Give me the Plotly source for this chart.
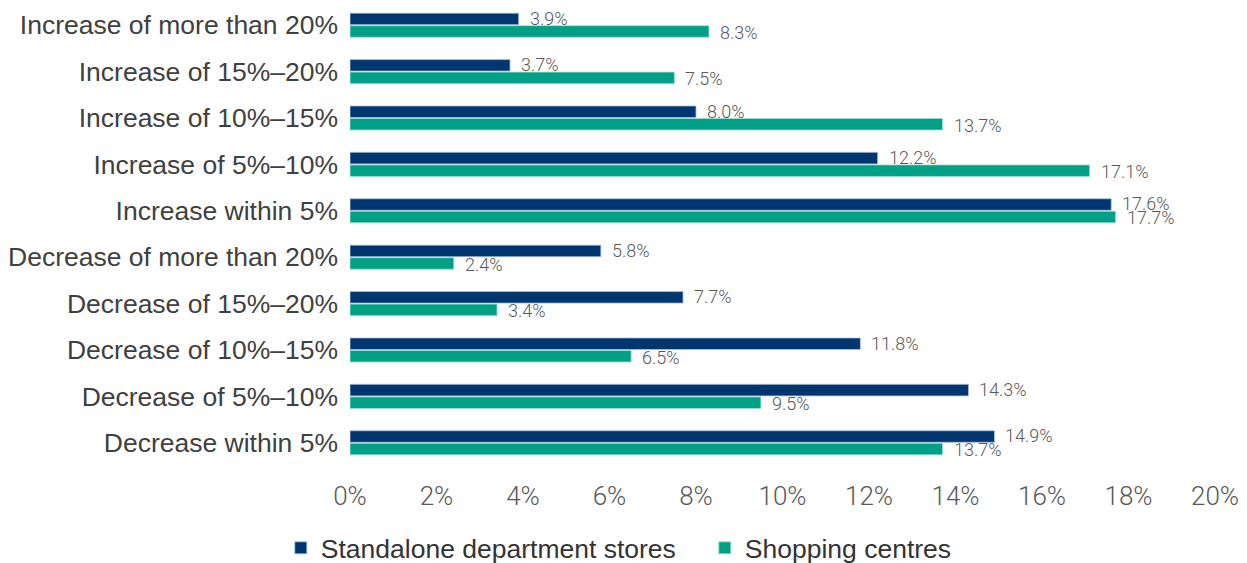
import plotly.graph_objects as go

categories = [
    "Increase of more than 20%",
    "Increase of 15%–20%",
    "Increase of 10%–15%",
    "Increase of 5%–10%",
    "Increase within 5%",
    "Decrease of more than 20%",
    "Decrease of 15%–20%",
    "Decrease of 10%–15%",
    "Decrease of 5%–10%",
    "Decrease within 5%",
]
standalone = [3.9, 3.7, 8.0, 12.2, 17.6, 5.8, 7.7, 11.8, 14.3, 14.9]
shopping = [8.3, 7.5, 13.7, 17.1, 17.7, 2.4, 3.4, 6.5, 9.5, 13.7]
x_ticks = [0, 2, 4, 6, 8, 10, 12, 14, 16, 18, 20]

NAVY = "#003670"
TEAL = "#00A086"
LABEL_FONT = dict(family="Roboto", size=18, color="#595959", weight=300)

fig = go.Figure()
fig.add_trace(go.Bar(
    name="Standalone department stores", y=categories, x=standalone,
    orientation="h", marker=dict(color=NAVY, line=dict(color="#a9bfd6", width=0.8)),
))
fig.add_trace(go.Bar(
    name="Shopping centres", y=categories, x=shopping,
    orientation="h", marker=dict(color=TEAL, line=dict(color="#9fe0d2", width=0.8)),
))

# value labels just past the end of each bar
annotations = []
for cat, a, b in zip(categories, standalone, shopping):
    annotations.append(dict(x=a, y=cat, text=f"{a:.1f}%", xanchor="left", yanchor="middle",
                            xshift=9, yshift=7, showarrow=False, font=LABEL_FONT))
    annotations.append(dict(x=b, y=cat, text=f"{b:.1f}%", xanchor="left", yanchor="middle",
                            xshift=9, yshift=-7, showarrow=False, font=LABEL_FONT))

fig.update_layout(
    width=1247, height=563,
    margin=dict(l=350, r=32, t=2, b=97, autoexpand=False),
    paper_bgcolor="white", plot_bgcolor="white",
    barmode="group", bargap=0.46, bargroupgap=0.08,
    showlegend=True,
    legend=dict(orientation="h", x=-0.08, xanchor="left", y=-0.177, yanchor="middle",
                font=dict(family="Liberation Sans", size=26.5, color="#333333"),
                itemwidth=30, entrywidth=379, traceorder="normal"),
    annotations=annotations,
)
fig.update_yaxes(
    autorange="reversed", showline=False, showgrid=False, ticks="",
    tickfont=dict(family="Liberation Sans", size=26.5, color="#404040"),
    ticklabelstandoff=11,
)
fig.update_xaxes(
    range=[0, 20], tickvals=x_ticks, ticktext=[f"{v}%" for v in x_ticks],
    showgrid=False, zeroline=False, showline=False, ticks="",
    tickfont=dict(family="Roboto", size=26, color="#595959", weight=300),
    ticklabelstandoff=12,
)

fig.write_html("out.html")
